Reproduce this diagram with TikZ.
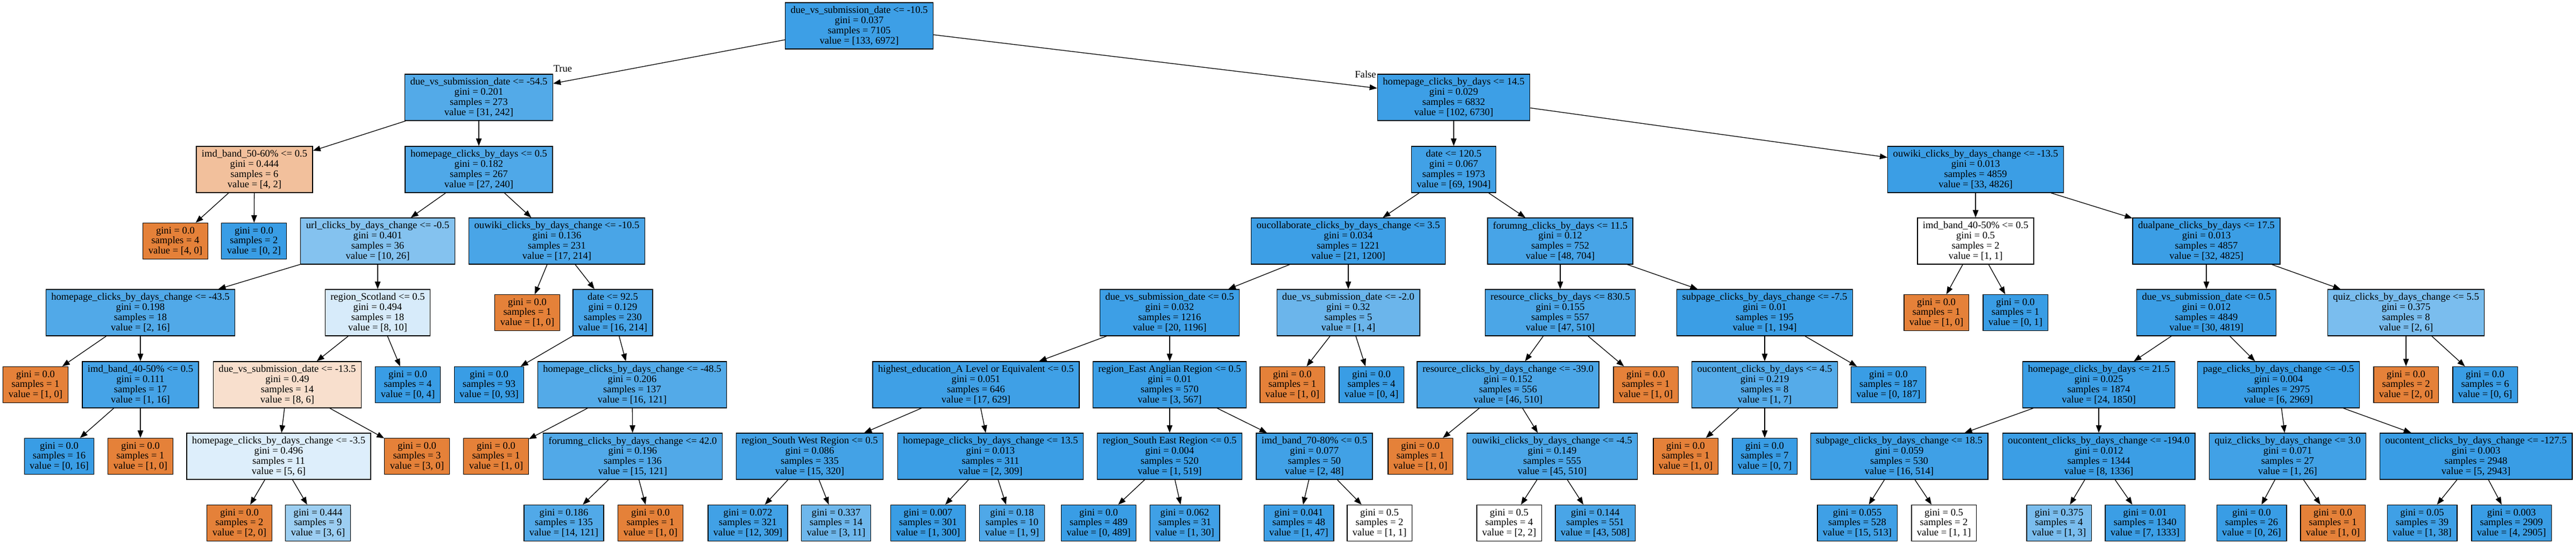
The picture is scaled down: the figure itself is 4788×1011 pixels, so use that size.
\documentclass[tikz,border=0pt]{standalone}
\usepackage{fontspec}
\setmainfont{Liberation Serif}
\usepackage{xcolor}
\usetikzlibrary{arrows.meta}

\definecolor{leftclass}{HTML}{E58139}
\definecolor{rightclass}{HTML}{399DE5}

\tikzset{
  splitbox/.style={draw, line width=1.3pt, rectangle, align=center, inner xsep=10pt, inner ysep=0pt, minimum height=86pt, font=\fontsize{18.6}{18.7}\selectfont},
  leafbox/.style={splitbox, minimum height=67pt},
  orng/.style={fill=leftclass!#1},
  blu/.style={fill=rightclass!#1},
  link/.style={line width=1.3pt, -{Triangle[length=14pt,width=10.5pt]}}
}

\begin{document}
\begin{tikzpicture}[x=1pt,y=-1pt]

		\useasboundingbox (0,0) rectangle (4788,1011);

		\node[splitbox,blu=98] (n0) at (1597,48) {due\_vs\_submission\_date <= -10.5\\gini = 0.037\\samples = 7105\\value = [133, 6972]};

		\node[splitbox,blu=87] (n1) at (890,181) {due\_vs\_submission\_date <= -54.5\\gini = 0.201\\samples = 273\\value = [31, 242]};
		\node[splitbox,blu=98] (n28) at (2702,181) {homepage\_clicks\_by\_days <= 14.5\\gini = 0.029\\samples = 6832\\value = [102, 6730]};

		\node[splitbox,orng=50] (n2) at (473,315) {imd\_band\_50-60\% <= 0.5\\gini = 0.444\\samples = 6\\value = [4, 2]};
		\node[splitbox,blu=89] (n5) at (890,315) {homepage\_clicks\_by\_days <= 0.5\\gini = 0.182\\samples = 267\\value = [27, 240]};
		\node[splitbox,blu=96] (n29) at (2702,315) {date <= 120.5\\gini = 0.067\\samples = 1973\\value = [69, 1904]};
		\node[splitbox,blu=99] (n62) at (3672,315) {ouwiki\_clicks\_by\_days\_change <= -13.5\\gini = 0.013\\samples = 4859\\value = [33, 4826]};

		\node[leafbox,orng=100] (n3) at (326,448) {gini = 0.0\\samples = 4\\value = [4, 0]};
		\node[leafbox,blu=100] (n4) at (472,448) {gini = 0.0\\samples = 2\\value = [0, 2]};
		\node[splitbox,blu=62] (n6) at (702,448) {url\_clicks\_by\_days\_change <= -0.5\\gini = 0.401\\samples = 36\\value = [10, 26]};
		\node[splitbox,blu=92] (n19) at (1035,448) {ouwiki\_clicks\_by\_days\_change <= -10.5\\gini = 0.136\\samples = 231\\value = [17, 214]};
		\node[splitbox,blu=98] (n30) at (2506,448) {oucollaborate\_clicks\_by\_days\_change <= 3.5\\gini = 0.034\\samples = 1221\\value = [21, 1200]};
		\node[splitbox,blu=93] (n49) at (2900,448) {forumng\_clicks\_by\_days <= 11.5\\gini = 0.12\\samples = 752\\value = [48, 704]};
		\node[splitbox,fill=white] (n63) at (3672,448) {imd\_band\_40-50\% <= 0.5\\gini = 0.5\\samples = 2\\value = [1, 1]};
		\node[splitbox,blu=99] (n66) at (4101,448) {dualpane\_clicks\_by\_days <= 17.5\\gini = 0.013\\samples = 4857\\value = [32, 4825]};

		\node[splitbox,blu=88] (n7) at (261,581) {homepage\_clicks\_by\_days\_change <= -43.5\\gini = 0.198\\samples = 18\\value = [2, 16]};
		\node[splitbox,blu=20] (n12) at (702,581) {region\_Scotland <= 0.5\\gini = 0.494\\samples = 18\\value = [8, 10]};
		\node[leafbox,orng=100] (n20) at (980,581) {gini = 0.0\\samples = 1\\value = [1, 0]};
		\node[splitbox,blu=93] (n21) at (1139,581) {date <= 92.5\\gini = 0.129\\samples = 230\\value = [16, 214]};
		\node[splitbox,blu=98] (n31) at (2174,581) {due\_vs\_submission\_date <= 0.5\\gini = 0.032\\samples = 1216\\value = [20, 1196]};
		\node[splitbox,blu=75] (n46) at (2506,581) {due\_vs\_submission\_date <= -2.0\\gini = 0.32\\samples = 5\\value = [1, 4]};
		\node[splitbox,blu=91] (n50) at (2900,581) {resource\_clicks\_by\_days <= 830.5\\gini = 0.155\\samples = 557\\value = [47, 510]};
		\node[splitbox,blu=99] (n57) at (3280,581) {subpage\_clicks\_by\_days\_change <= -7.5\\gini = 0.01\\samples = 195\\value = [1, 194]};
		\node[leafbox,orng=100] (n64) at (3599,581) {gini = 0.0\\samples = 1\\value = [1, 0]};
		\node[leafbox,blu=100] (n65) at (3746,581) {gini = 0.0\\samples = 1\\value = [0, 1]};
		\node[splitbox,blu=99] (n67) at (4101,581) {due\_vs\_submission\_date <= 0.5\\gini = 0.012\\samples = 4849\\value = [30, 4819]};
		\node[splitbox,blu=67] (n82) at (4472,581) {quiz\_clicks\_by\_days\_change <= 5.5\\gini = 0.375\\samples = 8\\value = [2, 6]};

		\node[leafbox,orng=100] (n8) at (66,715) {gini = 0.0\\samples = 1\\value = [1, 0]};
		\node[splitbox,blu=94] (n9) at (261,715) {imd\_band\_40-50\% <= 0.5\\gini = 0.111\\samples = 17\\value = [1, 16]};
		\node[splitbox,orng=25] (n13) at (534,715) {due\_vs\_submission\_date <= -13.5\\gini = 0.49\\samples = 14\\value = [8, 6]};
		\node[leafbox,blu=100] (n18) at (758,715) {gini = 0.0\\samples = 4\\value = [0, 4]};
		\node[leafbox,blu=100] (n22) at (909,715) {gini = 0.0\\samples = 93\\value = [0, 93]};
		\node[splitbox,blu=87] (n23) at (1175,715) {homepage\_clicks\_by\_days\_change <= -48.5\\gini = 0.206\\samples = 137\\value = [16, 121]};
		\node[splitbox,blu=97] (n32) at (1814,715) {highest\_education\_A Level or Equivalent <= 0.5\\gini = 0.051\\samples = 646\\value = [17, 629]};
		\node[splitbox,blu=99] (n39) at (2174,715) {region\_East Anglian Region <= 0.5\\gini = 0.01\\samples = 570\\value = [3, 567]};
		\node[leafbox,orng=100] (n47) at (2402,715) {gini = 0.0\\samples = 1\\value = [1, 0]};
		\node[leafbox,blu=100] (n48) at (2549,715) {gini = 0.0\\samples = 4\\value = [0, 4]};
		\node[splitbox,blu=91] (n51) at (2803,715) {resource\_clicks\_by\_days\_change <= -39.0\\gini = 0.152\\samples = 556\\value = [46, 510]};
		\node[leafbox,orng=100] (n56) at (3059,715) {gini = 0.0\\samples = 1\\value = [1, 0]};
		\node[splitbox,blu=86] (n58) at (3280,715) {oucontent\_clicks\_by\_days <= 4.5\\gini = 0.219\\samples = 8\\value = [1, 7]};
		\node[leafbox,blu=100] (n61) at (3510,715) {gini = 0.0\\samples = 187\\value = [0, 187]};
		\node[splitbox,blu=99] (n68) at (3901,715) {homepage\_clicks\_by\_days <= 21.5\\gini = 0.025\\samples = 1874\\value = [24, 1850]};
		\node[splitbox,blu=100] (n75) at (4235,715) {page\_clicks\_by\_days\_change <= -0.5\\gini = 0.004\\samples = 2975\\value = [6, 2969]};
		\node[leafbox,orng=100] (n83) at (4472,715) {gini = 0.0\\samples = 2\\value = [2, 0]};
		\node[leafbox,blu=100] (n84) at (4619,715) {gini = 0.0\\samples = 6\\value = [0, 6]};

		\node[leafbox,blu=100] (n10) at (110,848) {gini = 0.0\\samples = 16\\value = [0, 16]};
		\node[leafbox,orng=100] (n11) at (261,848) {gini = 0.0\\samples = 1\\value = [1, 0]};
		\node[splitbox,blu=17] (n14) at (518,848) {homepage\_clicks\_by\_days\_change <= -3.5\\gini = 0.496\\samples = 11\\value = [5, 6]};
		\node[leafbox,orng=100] (n17) at (775,848) {gini = 0.0\\samples = 3\\value = [3, 0]};
		\node[leafbox,orng=100] (n24) at (922,848) {gini = 0.0\\samples = 1\\value = [1, 0]};
		\node[splitbox,blu=88] (n25) at (1176,848) {forumng\_clicks\_by\_days\_change <= 42.0\\gini = 0.196\\samples = 136\\value = [15, 121]};
		\node[splitbox,blu=95] (n33) at (1505,848) {region\_South West Region <= 0.5\\gini = 0.086\\samples = 335\\value = [15, 320]};
		\node[splitbox,blu=99] (n36) at (1841,848) {homepage\_clicks\_by\_days\_change <= 13.5\\gini = 0.013\\samples = 311\\value = [2, 309]};
		\node[splitbox,blu=100] (n40) at (2174,848) {region\_South East Region <= 0.5\\gini = 0.004\\samples = 520\\value = [1, 519]};
		\node[splitbox,blu=96] (n43) at (2443,848) {imd\_band\_70-80\% <= 0.5\\gini = 0.077\\samples = 50\\value = [2, 48]};
		\node[leafbox,orng=100] (n52) at (2640,848) {gini = 0.0\\samples = 1\\value = [1, 0]};
		\node[splitbox,blu=91] (n53) at (2885,848) {ouwiki\_clicks\_by\_days\_change <= -4.5\\gini = 0.149\\samples = 555\\value = [45, 510]};
		\node[leafbox,orng=100] (n59) at (3133,848) {gini = 0.0\\samples = 1\\value = [1, 0]};
		\node[leafbox,blu=100] (n60) at (3280,848) {gini = 0.0\\samples = 7\\value = [0, 7]};
		\node[splitbox,blu=97] (n69) at (3530,848) {subpage\_clicks\_by\_days\_change <= 18.5\\gini = 0.059\\samples = 530\\value = [16, 514]};
		\node[splitbox,blu=99] (n72) at (3901,848) {oucontent\_clicks\_by\_days\_change <= -194.0\\gini = 0.012\\samples = 1344\\value = [8, 1336]};
		\node[splitbox,blu=96] (n76) at (4252,848) {quiz\_clicks\_by\_days\_change <= 3.0\\gini = 0.071\\samples = 27\\value = [1, 26]};
		\node[splitbox,blu=100] (n79) at (4602,848) {oucontent\_clicks\_by\_days\_change <= -127.5\\gini = 0.003\\samples = 2948\\value = [5, 2943]};

		\node[leafbox,orng=100] (n15) at (445,972) {gini = 0.0\\samples = 2\\value = [2, 0]};
		\node[leafbox,blu=50] (n16) at (591,972) {gini = 0.444\\samples = 9\\value = [3, 6]};
		\node[leafbox,blu=88] (n26) at (1048,972) {gini = 0.186\\samples = 135\\value = [14, 121]};
		\node[leafbox,orng=100] (n27) at (1209,972) {gini = 0.0\\samples = 1\\value = [1, 0]};
		\node[leafbox,blu=96] (n34) at (1390,972) {gini = 0.072\\samples = 321\\value = [12, 309]};
		\node[leafbox,blu=73] (n35) at (1554,972) {gini = 0.337\\samples = 14\\value = [3, 11]};
		\node[leafbox,blu=100] (n37) at (1725,972) {gini = 0.007\\samples = 301\\value = [1, 300]};
		\node[leafbox,blu=89] (n38) at (1881,972) {gini = 0.18\\samples = 10\\value = [1, 9]};
		\node[leafbox,blu=100] (n41) at (2042,972) {gini = 0.0\\samples = 489\\value = [0, 489]};
		\node[leafbox,blu=97] (n42) at (2202,972) {gini = 0.062\\samples = 31\\value = [1, 30]};
		\node[leafbox,blu=98] (n44) at (2414,972) {gini = 0.041\\samples = 48\\value = [1, 47]};
		\node[leafbox,fill=white] (n45) at (2564,972) {gini = 0.5\\samples = 2\\value = [1, 1]};
		\node[leafbox,fill=white] (n54) at (2805,972) {gini = 0.5\\samples = 4\\value = [2, 2]};
		\node[leafbox,blu=92] (n55) at (2965,972) {gini = 0.144\\samples = 551\\value = [43, 508]};
		\node[leafbox,blu=97] (n70) at (3452,972) {gini = 0.055\\samples = 528\\value = [15, 513]};
		\node[leafbox,fill=white] (n71) at (3613,972) {gini = 0.5\\samples = 2\\value = [1, 1]};
		\node[leafbox,blu=67] (n73) at (3827,972) {gini = 0.375\\samples = 4\\value = [1, 3]};
		\node[leafbox,blu=99] (n74) at (3987,972) {gini = 0.01\\samples = 1340\\value = [7, 1333]};
		\node[leafbox,blu=100] (n77) at (4185,972) {gini = 0.0\\samples = 26\\value = [0, 26]};
		\node[leafbox,orng=100] (n78) at (4336,972) {gini = 0.0\\samples = 1\\value = [1, 0]};
		\node[leafbox,blu=97] (n80) at (4502,972) {gini = 0.05\\samples = 39\\value = [1, 38]};
		\node[leafbox,blu=100] (n81) at (4668,972) {gini = 0.003\\samples = 2909\\value = [4, 2905]};

		\foreach \a/\b in {0/1,0/28,1/2,1/5,2/3,2/4,5/6,5/19,6/7,6/12,7/8,7/9,9/10,9/11,12/13,12/18,13/14,13/17,14/15,14/16,
		                   19/20,19/21,21/22,21/23,23/24,23/25,25/26,25/27,28/29,28/62,29/30,29/49,30/31,30/46,31/32,31/39,
		                   32/33,32/36,33/34,33/35,36/37,36/38,39/40,39/43,40/41,40/42,43/44,43/45,46/47,46/48,49/50,49/57,
		                   50/51,50/56,51/52,51/53,53/54,53/55,57/58,57/61,58/59,58/60,62/63,62/66,63/64,63/65,66/67,66/82,
		                   67/68,67/75,68/69,68/72,69/70,69/71,72/73,72/74,75/76,75/79,76/77,76/78,79/80,79/81,82/83,82/84}
		  \draw[link] (n\a) -- (n\b);

		\node[font=\fontsize{18.6}{18.7}\selectfont] (true) at (1046,128) {True};
		\node[font=\fontsize{18.6}{18.7}\selectfont] (false) at (2538,138) {False};

\end{tikzpicture}
\end{document}
